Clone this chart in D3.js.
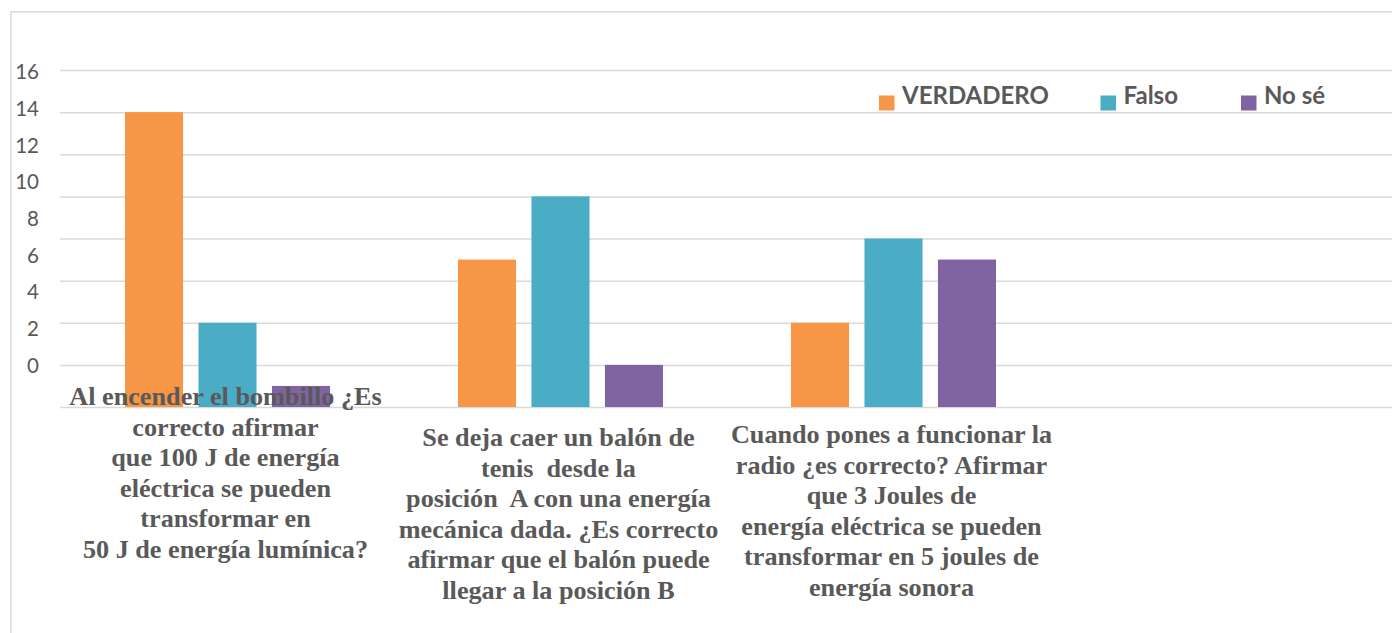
<!DOCTYPE html>
<html>
<head>
<meta charset="utf-8">
<script src="https://cdn.jsdelivr.net/npm/d3@7/dist/d3.min.js"></script>
<style>
  html, body { margin: 0; padding: 0; background: #fff; }
  svg { display: block; }
</style>
</head>
<body>
<svg id="chart" width="1392" height="633"></svg>
<script>
// ---- data ----
const categories = ["q1", "q2", "q3", "q4"];
const categoryLines = [
  ["Al encender el bombillo ¿Es", "correcto afirmar", "que 100 J de energía", "eléctrica se pueden", "transformar en", "50 J de energía lumínica?"],
  ["Se deja caer un balón de", "tenis  desde la", "posición  A con una energía", "mecánica dada. ¿Es correcto", "afirmar que el balón puede", "llegar a la posición B"],
  ["Cuando pones a funcionar la", "radio ¿es correcto? Afirmar", "que 3 Joules de", "energía eléctrica se pueden", "transformar en 5 joules de", "energía sonora"],
  []
];
const seriesNames = ["VERDADERO", "Falso", "No sé"];
const verdadero = [14, 7, 4];
const falso = [4, 10, 8];
const noSe = [1, 2, 7];
const tickLabels = [0, 2, 4, 6, 8, 10, 12, 14, 16];
const colors = ["#F79646", "#4BACC6", "#8064A2"];

const seriesValues = [verdadero, falso, noSe];

// ---- layout ----
const svg = d3.select("#chart");
const W = 1392, H = 633;
const plotLeft = 61, plotRight = 1393;
const baseY = 407, topY = 70;

// frame
svg.append("line").attr("x1", 11).attr("x2", W).attr("y1", 11.75).attr("y2", 11.75)
  .attr("stroke", "#d9d9d9").attr("stroke-width", 1.5);
svg.append("line").attr("x1", 11).attr("x2", 11).attr("y1", 11).attr("y2", H)
  .attr("stroke", "#d9d9d9").attr("stroke-width", 1.5);

const y = d3.scaleLinear().domain([0, 16]).range([baseY, topY]);
const x0 = d3.scaleBand().domain(categories).range([plotLeft, plotRight]).padding(0);
const groupW = 205;
const x1 = d3.scaleBand().domain(seriesNames).range([0, groupW]).paddingInner(0.21);

// gridlines
const grid = svg.append("g").attr("transform", `translate(${plotLeft - 1},0)`)
  .call(d3.axisLeft(y).tickValues(tickLabels).tickSize(-(W - plotLeft + 1)).tickFormat(""));
grid.select(".domain").remove();
grid.selectAll(".tick line").attr("stroke", "#d9d9d9").attr("stroke-width", 1.5);

// y labels (as drawn in the original, compressed)
const yLabel = d3.scaleLinear().domain([0, 16]).range([365, 71.5]);
const ya = svg.append("g").attr("transform", "translate(39,0)")
  .call(d3.axisLeft(yLabel).tickValues(tickLabels).tickSize(0).tickPadding(0));
ya.select(".domain").remove();
ya.selectAll("text").attr("fill", "#595959").attr("font-family", "Lato, 'Open Sans', sans-serif")
  .attr("font-size", 20.5).attr("dy", "0.35em");

// bars
const rows = categories.slice(0, 3).map((c, i) => ({ c, vals: seriesNames.map((s, j) => ({ s, v: seriesValues[j][i], j })) }));
const g = svg.append("g");
rows.forEach(r => {
  const off = x0(r.c) + (x0.bandwidth() - groupW) / 2;
  g.selectAll(null).data(r.vals).enter().append("rect")
    .attr("x", d => off + x1(d.s))
    .attr("width", x1.bandwidth())
    .attr("y", d => y(d.v))
    .attr("height", d => y(0) - y(d.v))
    .attr("fill", d => colors[d.j]);
});

// category labels
const firstBaselines = [405, 446, 443];
const lineH = 30.6;
categories.forEach((c, i) => {
  const lines = categoryLines[i];
  if (!lines.length) return;
  const t = svg.append("text")
    .attr("font-family", "'Liberation Serif', 'Times New Roman', serif")
    .attr("font-weight", "bold").attr("font-size", 26.2)
    .attr("fill", "#595959").attr("text-anchor", "middle")
    .style("white-space", "pre");
  lines.forEach((ln, k) => {
    t.append("tspan").attr("x", x0(c) + x0.bandwidth() / 2 - 2)
      .attr("y", firstBaselines[i] + k * lineH).text(ln);
  });
});

// legend
const legendX = [879, 1100.5, 1241];
const legend = svg.append("g");
seriesNames.forEach((s, i) => {
  legend.append("rect").attr("x", legendX[i]).attr("y", 95.5).attr("width", 15.5).attr("height", 15)
    .attr("fill", colors[i]);
  legend.append("text").attr("x", legendX[i] + 23).attr("y", 104)
    .attr("font-family", "Lato, 'Open Sans', sans-serif").attr("font-weight", "bold")
    .attr("font-size", 24).attr("fill", "#595959").text(s);
});
</script>
</body>
</html>
